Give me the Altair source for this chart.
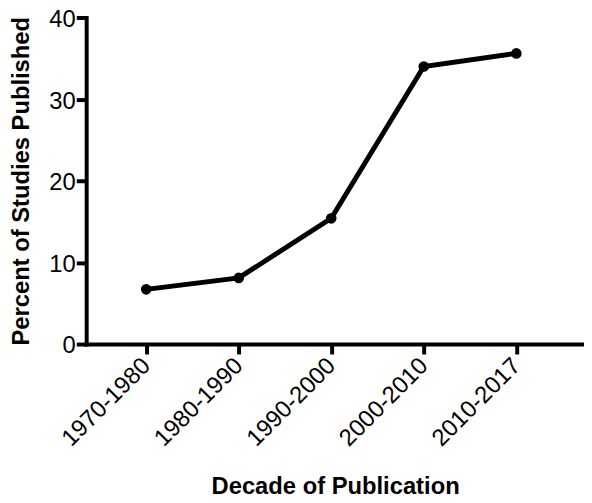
import altair as alt
import pandas as pd

decades = ["1970-1980", "1980-1990", "1990-2000", "2000-2010", "2010-2017"]
percents = [6.7, 8.1, 15.4, 34.0, 35.6]

df = pd.DataFrame({"decade": decades, "pct": percents})

FONT = "Liberation Sans"

x = alt.X("decade:N", sort=decades,
          scale=alt.Scale(type="point", padding=0.69, align=0.47),
          axis=alt.Axis(title="Decade of Publication", labelAngle=-45,
                        labelAlign="right", labelBaseline="middle",
                        labelPadding=8, titlePadding=24, titleFontSize=24))
y = alt.Y("pct:Q", scale=alt.Scale(domain=[0, 40]),
          axis=alt.Axis(title="Percent of Studies Published",
                        values=[0, 10, 20, 30, 40], labelPadding=1,
                        labelOffset=2, titlePadding=16, titleFontSize=24))

base = alt.Chart(df)
line = base.mark_line(color="black", strokeWidth=5).encode(x=x, y=y)
pts = base.mark_point(filled=True, color="black", size=115, opacity=1).encode(x=x, y=y)

chart = (line + pts).properties(
    width=503, height=330,
    autosize=alt.AutoSizeParams(type="none"),
    padding={"left": 79, "top": 7, "right": 0, "bottom": 156},
).configure_view(stroke=None).configure_axis(
    grid=False, domainColor="black", domainWidth=4, tickColor="black",
    tickWidth=4, tickSize=10, labelColor="black", titleColor="black",
    labelFont=FONT, titleFont=FONT, labelFontSize=24,
    titleFontWeight="bold", domainCap="square",
)

chart.save("out.html", embed_options={"renderer": "svg", "actions": False})
